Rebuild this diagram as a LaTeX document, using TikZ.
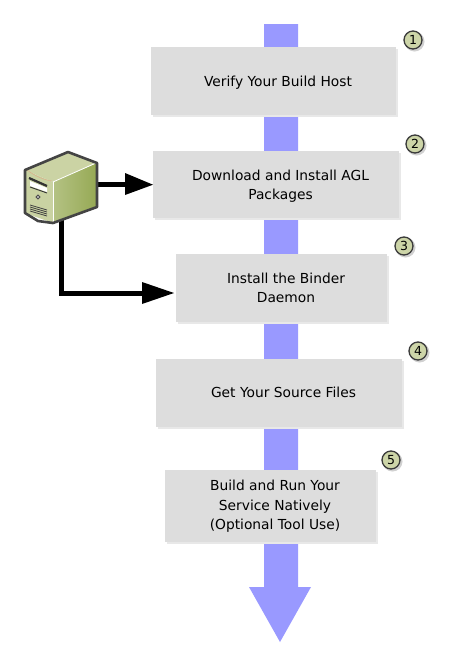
\documentclass[tikz,border=0pt]{standalone}
\usepackage{fontspec}
\setmainfont{DejaVu Sans}
\definecolor{flow}{HTML}{9999FF}
\definecolor{boxfill}{HTML}{DDDDDD}
\definecolor{boxshadow}{HTML}{E8E8E8}
\definecolor{badgefill}{HTML}{CDD5A8}
\definecolor{badgeline}{HTML}{3A3A3A}
\definecolor{srvline}{HTML}{444444}
\definecolor{srvfront}{HTML}{C9D2A2}
\definecolor{srvtop}{HTML}{CBD3A4}
\definecolor{srvsideA}{HTML}{B4C284}
\definecolor{srvsideB}{HTML}{96A954}
\tikzset{
  x=1pt,y=-1pt,
  stepbox/.style={rectangle,fill=boxfill,inner sep=0pt},
  steptext/.style={inner sep=0pt,align=center,font=\fontsize{13.8}{19.3}\selectfont,text=black},
  badge/.style={circle,draw=badgeline,line width=1.3pt,fill=badgefill,minimum size=18pt,inner sep=0pt,font=\fontsize{12.5}{14}\selectfont},
  conn/.style={line width=5pt,black},
  tip/.style={fill=black},
}
\newcommand{\stepnode}[7]{%
  \fill[boxshadow] (#2+2,#3+2) rectangle (#4+2,#5+2);
  \node[stepbox,minimum width=#4pt-#2pt,minimum height=#5pt-#3pt,anchor=north west] (#1) at (#2,#3) {};
  \node[steptext] (#1t) at ([xshift=4.3pt,yshift=#6pt]#1.center) {#7};
}
\begin{document}
\begin{tikzpicture}
\useasboundingbox (0,0) rectangle (458,657);
\fill[white] (0,0) rectangle (458,657);
% flow arrow
\fill[flow] (264,24) -- (298,24) -- (298,587) -- (311,587) -- (280,642) -- (249,587) -- (264,587) -- cycle;
% boxes
\stepnode{s1}{151}{47}{396}{115}{-1.5}{Verify Your Build Host}
\stepnode{s2}{153}{151}{399}{218}{-1.5}{Download and Install AGL\\Packages}
\stepnode{s3}{176}{254}{387}{322}{0.5}{Install the Binder\\Daemon}
\stepnode{s4}{156}{359}{402}{427}{1}{Get Your Source Files}
\stepnode{s5}{165}{470}{376}{542}{0}{Build and Run Your\\Service Natively\\(Optional Tool Use)}
% badges
\fill[black!18] (414.5,41.5) circle (10);
\node[badge] (b1) at (413,40) {1};
\fill[black!18] (416.5,145.5) circle (10);
\node[badge] (b2) at (415,144) {2};
\fill[black!18] (405.5,247.5) circle (10);
\node[badge] (b3) at (404,246) {3};
\fill[black!18] (419.5,352.5) circle (10);
\node[badge] (b4) at (418,351) {4};
\fill[black!18] (392.5,461.5) circle (10);
\node[badge] (b5) at (391,460) {5};
% connectors
\coordinate (srvR) at (97,184);
\coordinate (srvB) at (61,220);
\coordinate (c2) at (61,293);
\coordinate (h1) at (126,184);
\coordinate (h2) at (143,293);
\draw[conn] (srvR) -- (h1);
\draw[conn,line join=miter] (srvB) -- (c2) -- (h2);
\fill[tip] (125,173) -- (s2.west) -- (125,195) -- cycle;
\fill[tip] (142,282) -- (174,293) -- (142,304) -- cycle;
% server
\fill[srvfront] (25,170) -- (53,182) -- (53,223) -- (25,213) -- cycle;
\fill[srvtop] (25,170) -- (68,152) -- (97,163) -- (53,182) -- cycle;
\shade[left color=srvsideA,right color=srvsideB] (53,182) -- (97,163) -- (97,207) -- (53,223) -- cycle;
\draw[white,line width=0.8pt] (53,182) -- (96,163);
\draw[white,line width=0.6pt] (53,182) -- (53,222);
\draw[brown!60!white,line width=0.6pt] (27,170) .. controls (35,176) and (44,180) .. (52,181);
\draw[black!80,line width=2.2pt] (29,178) -- (47,186);
\fill[white] (30,181) -- (47,188) -- (47,192) -- (30,186) -- cycle;
\draw[black!80,line width=0.9pt] (30,187) -- (47,193);
\fill[white,draw=black!70,line width=1.1pt] (38,197) circle (1.9);
\foreach \k in {0,2,4,6}{\draw[black!75,line width=0.8pt] (30,205+\k) -- (47,210+\k);}
\draw[srvline,line width=2.6pt,line join=round] (25,170) -- (68,152) -- (97,163) -- (97,207) -- (53,223) -- (38,221) -- (25,213) -- cycle;
\end{tikzpicture}
\end{document}
